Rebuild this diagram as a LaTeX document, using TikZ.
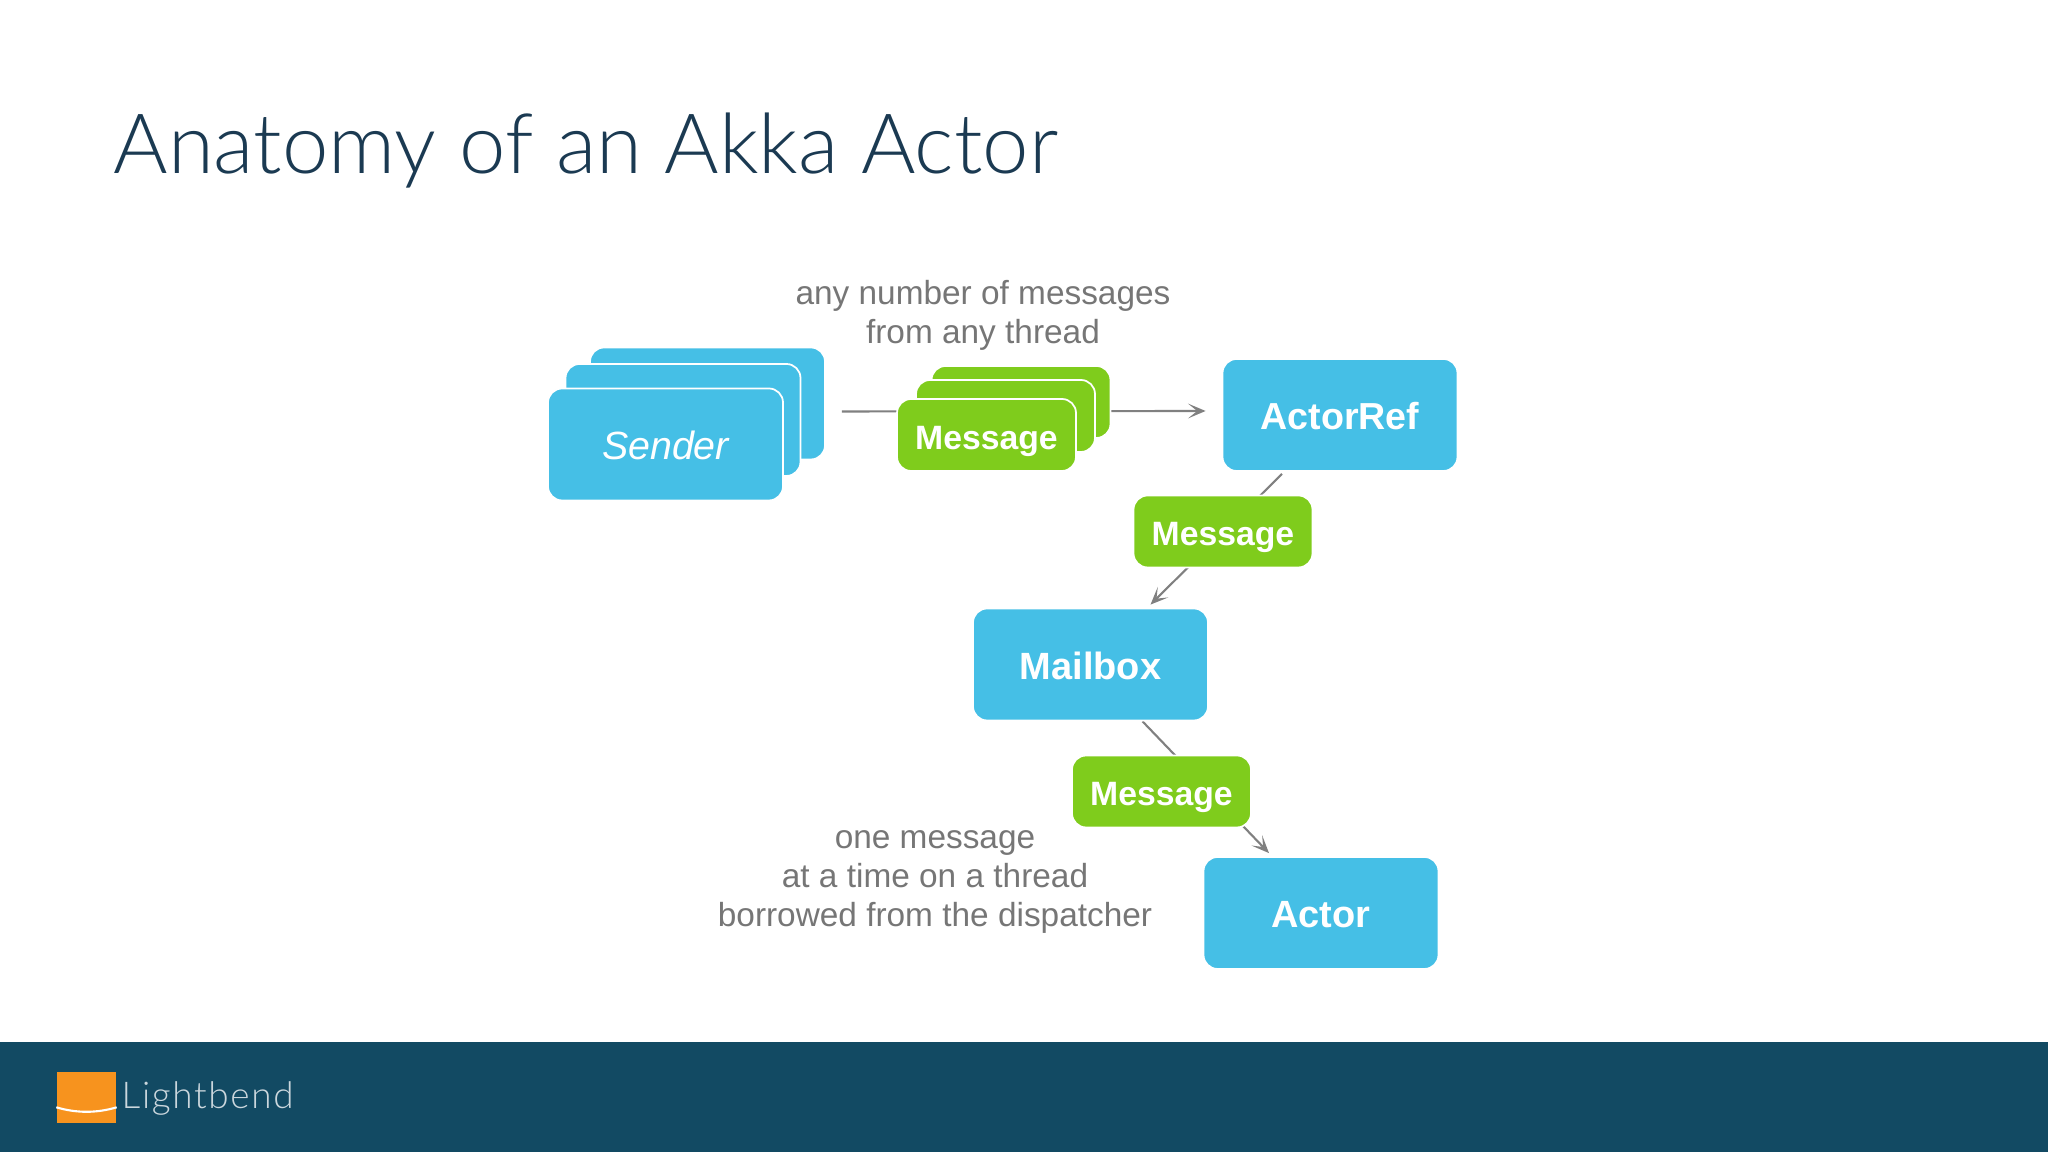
\documentclass[tikz,border=0pt]{standalone}
\usepackage{fontspec}
\setmainfont{Liberation Sans}
\newfontfamily\titlefont{Lato Light}
\newfontfamily\brandfont[LetterSpace=4.5]{Lato Light}
\usetikzlibrary{positioning,arrows.meta,backgrounds}
\definecolor{boxblue}{HTML}{45BFE6}
\definecolor{msggreen}{HTML}{7FCC1C}
\definecolor{footerblue}{HTML}{124A63}
\definecolor{titleblue}{HTML}{1B3A52}
\definecolor{notegray}{HTML}{767676}
\definecolor{logoorange}{HTML}{F7931E}
\tikzset{
  actorbox/.style={fill=boxblue, draw=white, line width=0.5pt, rounded corners=4pt, minimum width=2.35cm, minimum height=1.12cm, text height=8.5pt, text depth=0pt, text=white, font=\fontsize{10.8}{13}\selectfont\bfseries},
  msgbox/.style={fill=msggreen, draw=white, line width=0.5pt, rounded corners=4pt, minimum width=1.79cm, minimum height=0.72cm, text height=8.1pt, text depth=0pt, text=white, font=\fontsize{9.6}{12}\selectfont\bfseries},
  notetext/.style={text=notegray, align=center, font=\fontsize{9.5}{11.1}\selectfont},
  flowline/.style={draw=gray, line width=0.6pt, -{Stealth[length=5pt,width=4.2pt,inset=2.6pt]}}
}
\begin{document}
\begin{tikzpicture}
\useasboundingbox (0,0) rectangle (20.48,11.52);
% title and footer
\node[anchor=base west, inner sep=0pt, text=titleblue, font=\fontsize{23.7}{28}\titlefont] (title) at (1.13,9.78) {Anatomy of an Akka Actor};
\fill[footerblue] (0,0) rectangle (20.48,1.10);
\node[fill=logoorange, minimum width=0.59cm, minimum height=0.51cm, inner sep=0pt] (logo) at (0.865,0.545) {};
\draw[white, line width=0.6pt] ([yshift=-0.36cm]logo.north west) .. controls +(0.2,-0.06) and +(-0.2,-0.06) .. ([yshift=-0.36cm]logo.north east);
\node[anchor=base west, inner sep=0pt, text=white!78!footerblue, font=\fontsize{10.5}{12}\brandfont] (brand) at (1.21,0.43) {Lightbend};
% sender stack
\node[actorbox] (senderc) at (7.075,7.485) {};
\node[actorbox] (senderb) at (6.83,7.32) {};
\node[actorbox, font=\fontsize{11.2}{13}\selectfont\itshape] (sender) at (6.655,7.075) {Sender};
% message stack
\node[msgbox] (stackc) at (10.21,7.50) {};
\node[msgbox] (stackb) at (10.055,7.36) {};
\node[msgbox] (stack) at (9.865,7.17) {Message};
% the rest of the chain
\node[actorbox, font=\fontsize{10.7}{13}\selectfont\bfseries] (actorref) at (13.40,7.37) {ActorRef};
\node[msgbox] (msgtwo) at (12.23,6.205) {Message};
\node[actorbox] (mailbox) at (10.905,4.875) {Mailbox};
\node[msgbox] (msgthree) at (11.615,3.605) {Message};
\node[actorbox] (actor) at (13.21,2.39) {Actor};
% notes
\node[notetext] (noteany) at (9.83,8.37) {any number of messages\\from any thread};
\node[notetext] (noteone) at (9.35,2.70) {one message\\at a time on a thread\\borrowed from the dispatcher};
% connectors go behind the boxes
\begin{scope}[on background layer]
\draw[flowline] ([shift={(0.16,-0.08)}]senderc.east) -- ([shift={(-0.16,0.04)}]actorref.west);
\draw[flowline] ([xshift=-0.58cm,yshift=-0.02cm]actorref.south) -- ([xshift=0.6cm,yshift=0.03cm]mailbox.north);
\draw[flowline] ([xshift=0.52cm]mailbox.south) -- ([xshift=-0.52cm,yshift=0.03cm]actor.north);
\end{scope}
\end{tikzpicture}
\end{document}
